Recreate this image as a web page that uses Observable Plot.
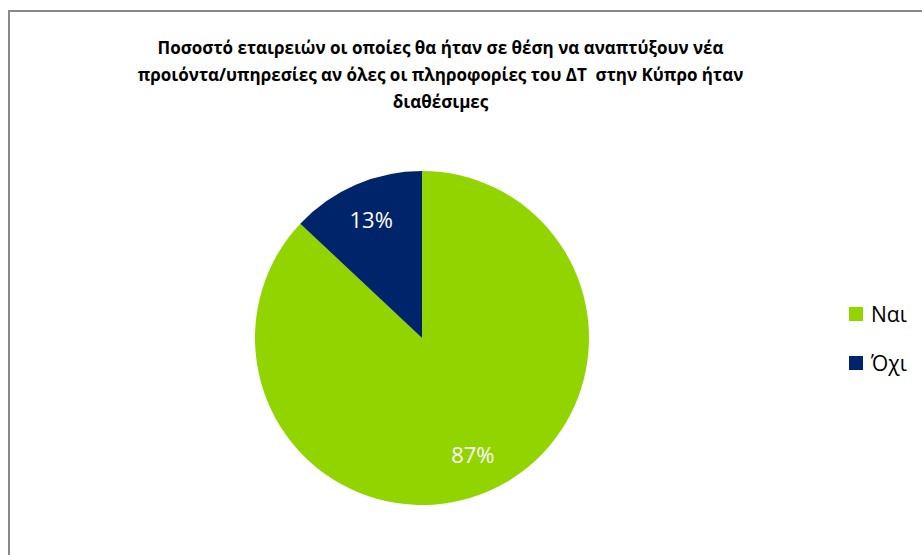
<!DOCTYPE html>
<html><head><meta charset="utf-8">
<script src="https://cdn.jsdelivr.net/npm/d3@7"></script>
<script src="https://cdn.jsdelivr.net/npm/@observablehq/plot@0.6"></script>
<style>
body{margin:0;background:#fff;}
#chart{position:relative;width:922px;height:555px;}
</style></head>
<body><div id="chart"></div>
<script>
const titleLines = [
  "Ποσοστό εταιρειών οι οποίες θα ήταν σε θέση να αναπτύξουν νέα",
  "προιόντα/υπηρεσίες αν όλες οι πληροφορίες του ΔΤ  στην Κύπρο ήταν",
  "διαθέσιμες"
];
const categories = ["Ναι", "Όχι"];
const shares = [87, 13];
const valueLabels = ["87%", "13%"];
const sliceColors = ["#92D400", "#002469"];

const data = categories.map((c, i) => ({category: c, value: shares[i], label: valueLabels[i], color: sliceColors[i]}));

function pieMark(rows, {cx, cy, r, labelR}) {
  return () => {
    const arcs = d3.pie().sort(null).value(d => d.value)(rows);
    const g = d3.create("svg:g").attr("transform", `translate(${cx},${cy})`);
    const arc = d3.arc().innerRadius(0).outerRadius(r);
    g.selectAll("path").data(arcs).join("path")
      .attr("d", arc).attr("fill", d => d.data.color);
    const la = d3.arc().innerRadius(labelR).outerRadius(labelR);
    g.selectAll("text").data(arcs).join("text")
      .attr("transform", d => `translate(${la.centroid(d)})`)
      .attr("text-anchor", "middle").attr("dy", "0.36em")
      .attr("fill", "#fff").attr("font-size", 22)
      .attr("font-family", "'Open Sans', sans-serif")
      .text(d => d.data.label);
    return g.node();
  };
}

function legendMark(rows, {x, y, step, size}) {
  return () => {
    const g = d3.create("svg:g");
    const item = g.selectAll("g").data(rows).join("g")
      .attr("transform", (d, i) => `translate(${x},${y + i * step})`);
    item.append("rect").attr("width", size).attr("height", size).attr("fill", d => d.color);
    item.append("text").attr("x", size + 8).attr("y", size / 2).attr("dy", "0.36em")
      .attr("text-anchor", "start")
      .attr("font-size", 21).attr("font-family", "'Open Sans', sans-serif").attr("fill", "#000")
      .text(d => d.category);
    return g.node();
  };
}

function borderMark() {
  return () => d3.create("svg:rect").attr("x", 9).attr("y", 11).attr("width", 940).attr("height", 600)
    .attr("fill", "none").attr("stroke", "#888").attr("stroke-width", 2).node();
}

const chart = Plot.plot({
  width: 922,
  height: 555,
  margin: 0,
  style: {background: "#fff", overflow: "hidden"},
  marks: [
    borderMark(),
    Plot.text([titleLines.join("\n")], {
      frameAnchor: "top", dx: -21, dy: 72, lineAnchor: "middle", lineHeight: 1.59,
      fontSize: 17, fontWeight: "bold", fontFamily: "'Open Sans', sans-serif", fill: "#000",
      letterSpacing: "0.7px"
    }),
    pieMark(data, {cx: 422, cy: 338, r: 167, labelR: 128}),
    legendMark(data, {x: 849, y: 307, step: 49, size: 14})
  ]
});
document.getElementById("chart").appendChild(chart);
</script>
</body></html>
